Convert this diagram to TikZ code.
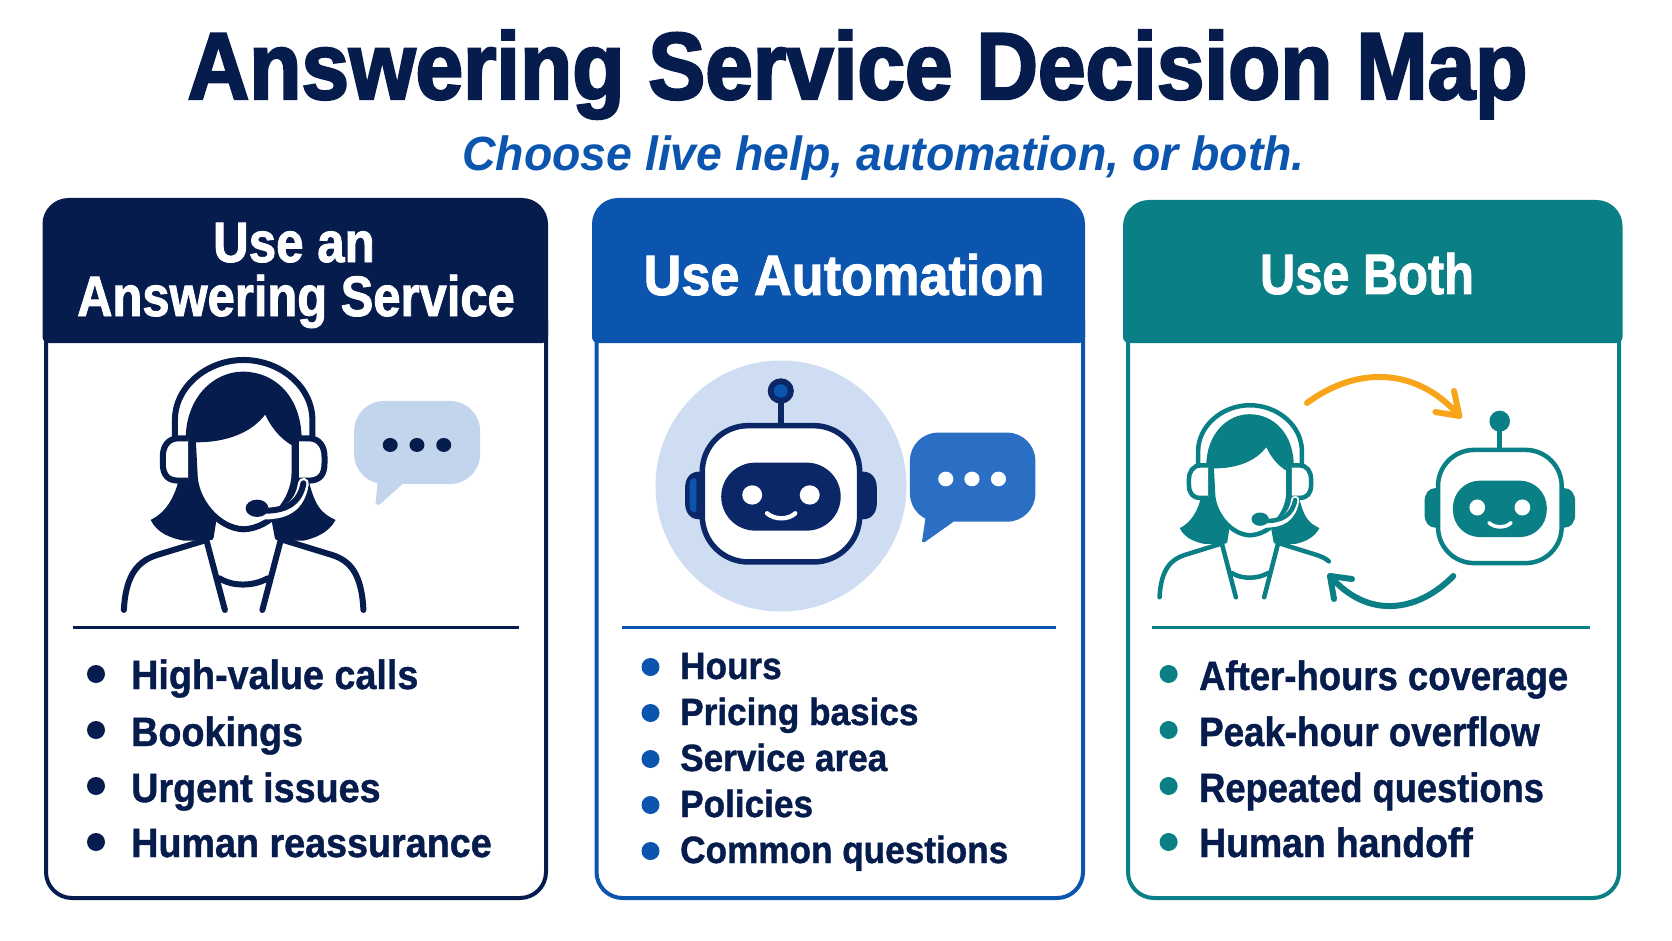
\documentclass[tikz,border=0pt]{standalone}
\usepackage{graphicx}
\usepackage{fontspec}
\setmainfont{Liberation Sans}
\definecolor{navy}{HTML}{061C4C}
\definecolor{robonavy}{HTML}{0C2768}
\definecolor{bluec}{HTML}{0B55AE}
\definecolor{tealc}{HTML}{0A7F86}
\definecolor{orangec}{HTML}{F9A51A}
\definecolor{bublight}{HTML}{C3D5EC}
\definecolor{bubblue}{HTML}{2B6FC4}
\definecolor{halo}{HTML}{CEDDF1}
\newcommand{\fsz}[1]{\fontsize{#1}{#1}\selectfont}
\newcommand{\cnd}[2]{\addfontfeature{FakeStretch=#1,FakeBold=#2}}
\tikzset{
  lbl/.style={inner sep=0pt,anchor=base west,text=navy,font=\fsz{41}\bfseries},
  hdr/.style={inner sep=0pt,anchor=base,text=white,font=\fsz{57}\bfseries},
  bodyline/.style={line width=4pt,rounded corners=26pt},
  rule/.style={line width=3pt},
  arrowline/.style={line width=6pt,line cap=round,line join=round},
}
% person drawn in local coordinates
\newcommand{\PersonIcon}[3]{%
  % #1 colour, #2 line width, #3 right shoulder path
  \fill[#1] (520,780) .. controls (520,650) and (600,575) .. (680,575) .. controls (770,575) and (845,650) .. (845,780)
     -- (860,880) .. controls (880,980) and (900,1000) .. (940,1020) .. controls (920,1060) and (880,1075) .. (850,1082)
     -- (515,1082) .. controls (480,1075) and (440,1060) .. (422,1020) .. controls (460,1000) and (490,960) .. (505,880) -- cycle;
  \fill[white] (597,1020) -- (580,1090) -- (785,1090) -- (768,1020) -- cycle;
  \draw[#1,fill=white,line width=#2,line join=round] (540,778) .. controls (640,780) and (710,745) .. (745,685)
     .. controls (760,730) and (790,770) .. (825,790) -- (825,880) .. controls (825,960) and (760,1045) .. (682,1048)
     .. controls (610,1045) and (545,960) .. (545,880) -- cycle;
  \draw[#1,line width=#2] (490,790) -- (490,720) .. controls (490,620) and (580,540) .. (682,540) .. controls (785,540) and (875,620) .. (875,720) -- (875,790);
  \draw[#1,fill=white,line width=#2] (527,775) -- (500,775) .. controls (470,775) and (456,800) .. (456,830) -- (456,850) .. controls (456,885) and (470,902) .. (500,902) -- (527,902);
  \draw[#1,fill=white,line width=#2] (838,775) -- (865,775) .. controls (895,775) and (909,800) .. (909,830) -- (909,850) .. controls (909,885) and (895,902) .. (865,902) -- (838,902);
  \draw[white,line width=1.8*#2,line cap=round] (850,910) .. controls (840,980) and (800,1005) .. (730,1002);
  \draw[#1,line width=#2,line cap=round] (850,910) .. controls (840,970) and (800,995) .. (730,992);
  \fill[#1] (720,985) ellipse [x radius=32,y radius=26];
  \draw[#1,line width=#2,line cap=round,line join=round]
     (597,1025) -- (590,1072) (770,1025) -- (778,1072)
     (578,1080) -- (630,1290) (787,1078) -- (735,1290)
     (615,1195) .. controls (650,1220) and (710,1220) .. (750,1195)
     (578,1080) -- (440,1125) .. controls (390,1142) and (352,1180) .. (347,1290);
  \draw[#1,line width=#2,line cap=round,line join=round] #3;
}
% robot drawn in local coordinates
\newcommand{\RobotIcon}[5]{%
  % #1 colour, #2 ear inner, #3 line width, #4 head radius, #5 screen radius
  \draw[#1,line width=#3] (583,740) -- (583,665);
  \fill[#1] (365,875) -- (345,875) .. controls (320,875) and (305,895) .. (305,925) -- (305,968) .. controls (305,998) and (320,1018) .. (345,1018) -- (365,1018) -- cycle;
  \fill[#1] (802,875) -- (822,875) .. controls (847,875) and (862,895) .. (862,925) -- (862,968) .. controls (862,998) and (847,1018) .. (822,1018) -- (802,1018) -- cycle;
  \fill[#2,rounded corners=3pt] (318,900) -- (338,892) -- (338,1000) -- (318,990) -- cycle;
  \draw[#1,fill=white,line width=#3,rounded corners=#4] (355,737) rectangle (812,1146);
  \fill[#1,rounded corners=#5] (410,848) rectangle (757,1052);
  \fill[white] (500,945) circle [radius=29];
  \fill[white] (667,945) circle [radius=29];
  \draw[white,line width=#3*.8,line cap=round] (543,1000) .. controls (565,1020) and (605,1020) .. (625,1000);
  \fill[#1] (583,633) circle [radius=38];
  \fill[#2] (583,633) circle [radius=20];
}
\begin{document}
\begin{tikzpicture}[x=1pt,y=-1pt]
\useasboundingbox (0,0) rectangle (1672,941);
\fill[white] (0,0) rectangle (1672,941);

\node[inner sep=0pt,anchor=base,text=navy,font=\fsz{95}\bfseries] (title) at (857.5,99) {\cnd{.9}{2.5}Answering Service Decision Map};
\node[inner sep=0pt,anchor=base,text=bluec,font=\fsz{48}\itshape\bfseries] (subtitle) at (883.5,171) {\cnd{.966}{0}Choose live help, automation, or both.};

% ---------- card 1
\draw[navy,bodyline] (46,320) -- (46,898) -- (546,898) -- (546,320);
\fill[navy] (42.5,300) [rounded corners=26pt] -- (42.5,198) -- (548,198) -- (548,300) [rounded corners=6pt] -- (548,343) -- (42.5,343) -- cycle;
\node[hdr] (h1a) at (294,262) {\cnd{.865}{1.5}Use an};
\node[hdr] (h1b) at (296,316) {\cnd{.858}{1.5}Answering Service};
\begin{scope}[shift={(0,180)},x=.357pt,y=-.3333pt]
\PersonIcon{navy}{6pt}{(787,1078) -- (930,1125) .. controls (980,1142) and (1013,1180) .. (1018,1290)}
\fill[bublight,rounded corners=30pt] (992,663) rectangle (1345,912);
\fill[bublight,line join=round] (1060,880) -- (1052,972) -- (1062,975) -- (1135,905) -- cycle;
\foreach \px in {1093,1168,1243} \fill[navy] (\px,795) circle [radius=21];
\end{scope}
\draw[navy,rule] (72.5,627) -- (519,627);
\foreach \yy/\bb/\tt in {674/689/High-value calls,730/746/Bookings,786/802/Urgent issues,842/857/Human reassurance}{
  \fill[navy] (96,\yy) circle [radius=9];
  \node[lbl] at (131,\bb) {\cnd{.92}{1}\tt};
}

% ---------- card 2
\draw[bluec,bodyline] (596.5,320) -- (596.5,898) -- (1083,898) -- (1083,320);
\fill[bluec] (592,300) [rounded corners=26pt] -- (592,198) -- (1085,198) -- (1085,300) [rounded corners=6pt] -- (1085,343) -- (592,343) -- cycle;
\node[hdr] (h2) at (844,295) {\cnd{.917}{1.5}Use Automation};
\fill[halo] (781,486) circle [radius=125.5];
\begin{scope}[shift={(580,180)},x=.3444pt,y=-.3333pt]
\RobotIcon{robonavy}{bluec}{5.5pt}{46pt}{34pt}
\fill[bubblue,rounded corners=28pt] (958,758) rectangle (1322,1025);
\fill[bubblue,line join=round] (1005,1000) -- (993,1085) -- (1000,1087) -- (1085,1025) -- cycle;
\foreach \px in {1062,1138,1215} \fill[white] (\px,897) circle [radius=22];
\end{scope}
\draw[bluec,rule] (622,627) -- (1056,627);
\foreach \yy/\bb/\tt in {667/679/Hours,713/725/Pricing basics,759/771/Service area,805/817/Policies,851/863/Common questions}{
  \fill[bluec] (650.5,\yy) circle [radius=9];
  \node[lbl,font=\fsz{38}\bfseries] at (680,\bb) {\cnd{.925}{1}\tt};
}

% ---------- card 3
\draw[tealc,bodyline] (1128,320) -- (1128,898) -- (1619,898) -- (1619,320);
\fill[tealc] (1123,300) [rounded corners=26pt] -- (1123,200) -- (1622.5,200) -- (1622.5,300) [rounded corners=6pt] -- (1622.5,343) -- (1123,343) -- cycle;
\node[hdr] (h3) at (1367,294) {\cnd{.855}{1.5}Use Both};
\begin{scope}[shift={(1066,267)},x=.2696pt,y=-.256pt]
\PersonIcon{tealc}{4.5pt}{(787,1078) -- (930,1125) .. controls (950,1132) and (965,1140) .. (975,1150)}
\end{scope}
\begin{scope}[shift={(1342,246)},x=.2705pt,y=-.2767pt]
\RobotIcon{tealc}{tealc}{4.5pt}{36pt}{27pt}
\end{scope}
\coordinate (oa) at (1307,403);
\coordinate (ob) at (1459.4,416);
\draw[orangec,arrowline] (oa) .. controls (1358,365) and (1418,368) .. (ob);
\draw[orangec,arrowline] (1454,391) -- (ob) -- (1435.4,412);
\coordinate (ta) at (1453.3,576);
\coordinate (tb) at (1330,576);
\draw[tealc,arrowline] (ta) .. controls (1418,612) and (1368,620) .. (tb);
\draw[tealc,arrowline] (1352,579) -- (tb) -- (1334,599);
\draw[tealc,rule] (1152,627) -- (1590,627);
\foreach \yy/\bb/\tt/\st in {674/690/After-hours coverage/.89,730/746/Peak-hour overflow/.895,786/802/Repeated questions/.885,842/857/Human handoff/.91}{
  \fill[tealc] (1168.6,\yy) circle [radius=9];
  \node[lbl] at (1199,\bb) {\cnd{\st}{1}\tt};
}
\end{tikzpicture}
\end{document}
